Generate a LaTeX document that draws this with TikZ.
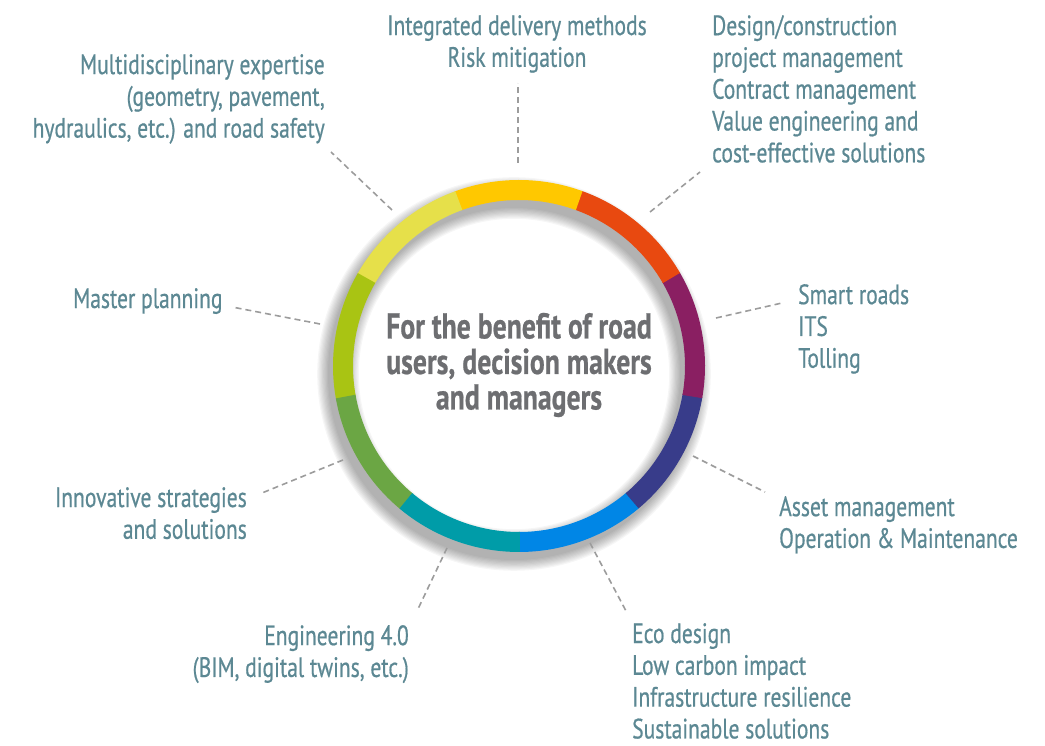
\documentclass[tikz,border=0pt]{standalone}
\usepackage{fontspec}
\setmainfont{PT Sans}[FakeStretch=0.77, FakeBold=0.6]
\usepackage{xcolor}
\usetikzlibrary{positioning,calc}

\definecolor{topicteal}{HTML}{5C8893}
\definecolor{centregray}{HTML}{6D6E71}
\definecolor{dashgray}{HTML}{9C9C9C}
\definecolor{segblue}{HTML}{0086E6}
\definecolor{segnavy}{HTML}{383C8A}
\definecolor{segpurple}{HTML}{8A1F62}
\definecolor{segorange}{HTML}{E84910}
\definecolor{segyellow}{HTML}{FFC800}
\definecolor{seglight}{HTML}{E6E04A}
\definecolor{seglime}{HTML}{A9C413}
\definecolor{seggreen}{HTML}{6BA644}
\definecolor{segteal}{HTML}{009CA8}

\tikzset{
	ring/.style={line width=20pt},
	link/.style={draw=dashgray, line width=1.6pt, dash pattern=on 6pt off 4pt}
}

\begin{document}
\begin{tikzpicture}
	[x=1pt, y=1pt,
		% STYLES
		% The topic style is used for the texts round the ring
		topic/.style={inner sep=0pt, text=topicteal,
				font=\fontsize{28}{31.8}\selectfont},
		% The benefit style is used for the text in the middle
		benefit/.style={inner sep=0pt, text=centregray, align=center,
				font=\bfseries\fontsize{36}{35.5}\selectfont}]

	\useasboundingbox (0,0) rectangle (1045,746);
	\coordinate (c) at (519,380);

	% Shadow
	\foreach \k in {0,...,9}
	\draw[line width={(20+2.4*\k)*1pt}, black, opacity=0.035]
	($(c)+(-5,-8)$) circle (176);

	% Ring
	\foreach \col [count=\i from 0] in {segblue,segnavy,segpurple,segorange,
			segyellow,seglight,seglime,seggreen,segteal}
	\draw[ring, \col] ($(c)+(270+40*\i:176)$)
	arc[start angle=270+40*\i, delta angle=40.3, radius=176];

	\node [benefit] (users) at ($(c)+(0,1)$) {For the benefit of road\\
		users, decision makers\\ and managers};

	%%%%%%%%%%%%%%%
	% Topics

	\node [topic, align=center, anchor=north] (delivery) at (517,731)
	{Integrated delivery methods\\ Risk mitigation};
	\node [topic, align=left, anchor=north west] (design) at (712,731)
	{Design/construction\\ project management\\ Contract management\\
		Value engineering and\\ cost-effective solutions};
	\node [topic, align=left, anchor=north west] (smart) at (798,462)
	{Smart roads\\ ITS\\ Tolling};
	\node [topic, align=left, anchor=north west] (asset) at (779,250)
	{Asset management\\ Operation \& Maintenance};
	\node [topic, align=left, anchor=north west] (eco) at (632,123)
	{Eco design\\ Low carbon impact\\ Infrastructure resilience\\
		Sustainable solutions};
	\node [topic, align=right, anchor=north east] (bim) at (409,121)
	{Engineering 4.0\\ (BIM, digital twins, etc.)};
	\node [topic, align=right, anchor=north east] (innov) at (247,259)
	{Innovative strategies\\ and solutions};
	\node [topic, align=left, anchor=north west] (master) at (73,458)
	{Master planning};
	\node [topic, align=right, anchor=north east] (multi) at (325,692)
	{Multidisciplinary expertise\\ (geometry, pavement,\\
		hydraulics, etc.) and road safety};

	% Connector ends
	\coordinate (delivery-r) at (518,583);
	\coordinate (delivery-t) at (518,663);
	\coordinate (design-r) at (650,534);
	\coordinate (design-t) at (700,574);
	\coordinate (smart-r) at (716,428);
	\coordinate (smart-t) at (782,443);
	\coordinate (asset-r) at (693,290);
	\coordinate (asset-t) at (765,254);
	\coordinate (eco-r) at (590,203);
	\coordinate (eco-t) at (626,135);
	\coordinate (bim-r) at (447,198);
	\coordinate (bim-t) at (418,137);
	\coordinate (innov-r) at (343,286);
	\coordinate (innov-t) at (262,253);
	\coordinate (master-r) at (320,422);
	\coordinate (master-t) at (232,439);
	\coordinate (multi-r) at (392,536);
	\coordinate (multi-t) at (331,594);

	\foreach \n in {delivery,design,smart,asset,eco,bim,innov,master,multi}
	\draw[link] (\n-r) -- (\n-t);

\end{tikzpicture}
\end{document}
